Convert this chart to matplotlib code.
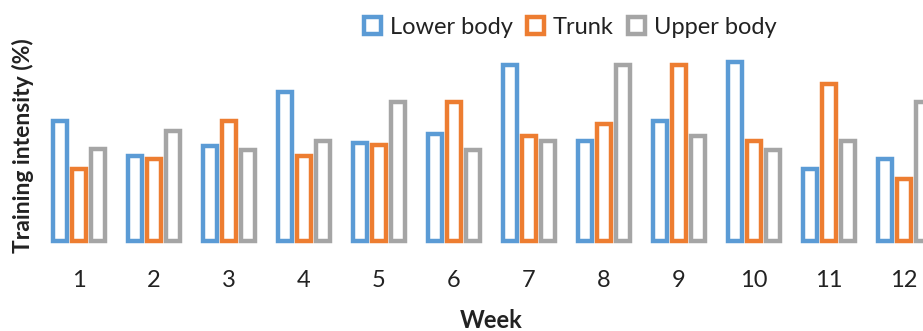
import numpy as np
import matplotlib
matplotlib.use("Agg")
import matplotlib.pyplot as plt
from matplotlib.patches import Patch

plt.rcParams['font.family'] = ['Lato', 'DejaVu Sans']

# Dados (unidades relativas)
weeks = ['1', '2', '3', '4', '5', '6', '7', '8', '9', '10', '11', '12']
lower_body = [118, 84, 94, 147, 97, 105, 174, 99, 118, 177, 71, 81]
trunk = [71, 81, 118, 84, 95, 137, 103, 115, 174, 99, 155, 61]
upper_body = [91, 108, 90, 99, 137, 90, 99, 174, 103, 90, 99, 137]

series = [('Lower body', lower_body, '#5B9BD5'),
          ('Trunk', trunk, '#ED7D31'),
          ('Upper body', upper_body, '#A5A5A5')]

W, H = 923, 331
fig = plt.figure(figsize=(W / 100, H / 100), dpi=100)
# eixo se estende além da borda direita, como no original
ax = fig.add_axes([41.5 / W, 1 - 240.5 / H, 900 / W, 200 / H])

x = np.arange(1, len(weeks) + 1)
step = 0.257
for i, (name, vals, color) in enumerate(series):
    ax.bar(x + (i - 1) * step, vals, width=0.19, facecolor='white',
           edgecolor=color, linewidth=3.2, clip_on=False)

ax.set_xlim(0.5, 12.5)
ax.set_ylim(0, 198)
ax.set_xticks(x)
ax.set_xticklabels(weeks, fontsize=17, color='#222222')
ax.tick_params(axis='x', length=0, pad=21)
ax.set_yticks([])
for s in ax.spines.values():
    s.set_visible(False)

fig.text(491 / W, 1 - 320 / H, 'Week', ha='center', va='center',
         fontsize=17, fontweight='bold', color='#222222')
fig.text(23 / W, 1 - 146 / H, 'Training intensity (%)', ha='center',
         va='center', rotation=90, fontsize=16.5, fontweight='bold',
         color='#222222')

handles = [Patch(facecolor='white', edgecolor=c, linewidth=3.2, label=n)
           for n, _, c in series]
fig.legend(handles=handles, loc='center', bbox_to_anchor=(570 / W, 1 - 27 / H),
           ncol=3, frameon=False, fontsize=17, handlelength=0.75,
           handleheight=0.75, handletextpad=0.35, columnspacing=0.6,
           labelcolor='#222222')

fig.savefig('out.png', dpi=100, facecolor='white')
